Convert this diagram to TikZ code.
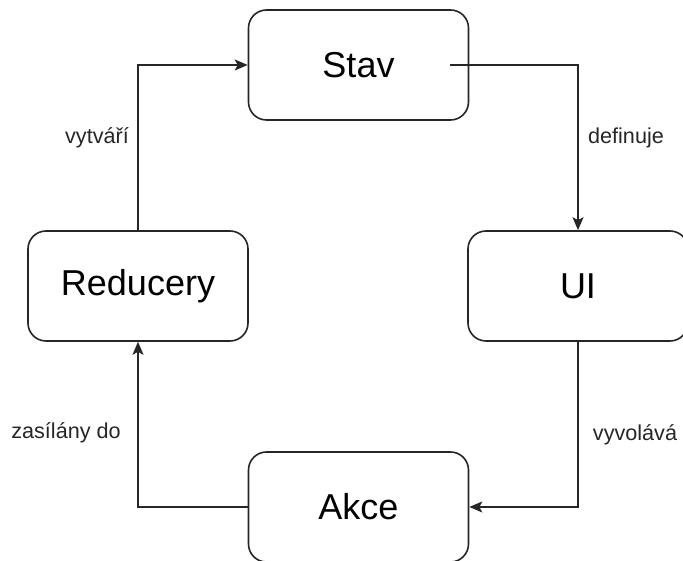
\documentclass[tikz,border=0pt]{standalone}
\usepackage{fontspec}
\setmainfont{Liberation Sans}
\usetikzlibrary{arrows.meta}
\begin{document}
\begin{tikzpicture}[x=1pt,y=1pt,
  box/.style={draw=black!85,line width=1.6pt,rounded corners=18pt,minimum width=220pt,minimum height=110pt,inner sep=0pt,font=\fontsize{36}{40}\selectfont,fill=white},
  conn/.style={draw=black!85,line width=1.6pt,-{Stealth[length=13pt,width=11pt,inset=3pt]}},
  lab/.style={font=\fontsize{21.6}{24}\selectfont,text=black!85,inner sep=0pt}]
\useasboundingbox (0,0) rectangle (683,561);
\fill[white] (0,0) rectangle (683,561);
\node[box] (stav) at (358.5,496) {Stav};
\node[box] (ui) at (578,275) {UI};
\node[box] (red) at (138,275) {Reducery};
\node[box] (akce) at (358.5,54) {Akce};
\coordinate (s1) at ([xshift=-19pt]stav.east);
\draw[conn] (s1) -| (ui.north);
\draw[conn] (ui.south) |- (akce.east);
\draw[conn] (akce.west) -| (red.south);
\draw[conn] (red.north) |- (stav.west);
\node[lab] (l1) at (97,423) {vytváří};
\node[lab] (l2) at (626,423) {definuje};
\node[lab] (l3) at (635,126) {vyvolává};
\node[lab] (l4) at (66,128) {zasílány do};
\end{tikzpicture}
\end{document}
